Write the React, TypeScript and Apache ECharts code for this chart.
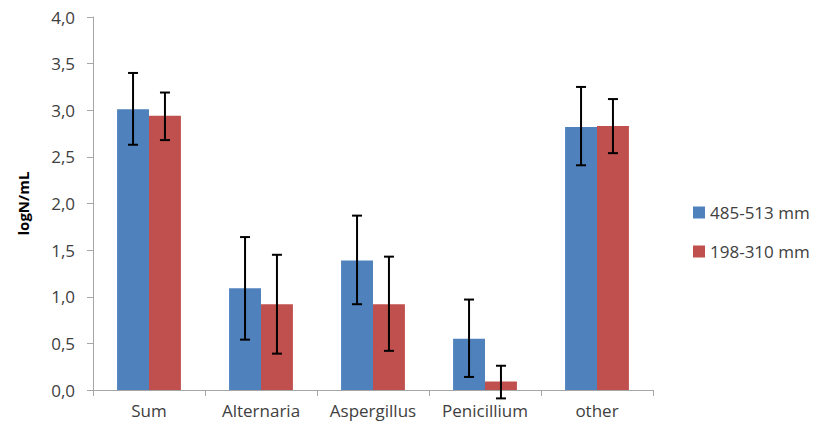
import React, { useEffect, useRef } from "react";
import * as echarts from "echarts";

const categories = ["Sum", "Alternaria", "Aspergillus", "Penicillium", "other"];
const seriesNames = ["485-513 mm", "198-310 mm"];
const blueMean = [3.01, 1.09, 1.39, 0.55, 2.82];
const blueLow = [2.63, 0.54, 0.92, 0.14, 2.41];
const blueHigh = [3.4, 1.64, 1.87, 0.97, 3.25];
const redMean = [2.94, 0.92, 0.92, 0.09, 2.83];
const redLow = [2.68, 0.39, 0.42, -0.09, 2.54];
const redHigh = [3.19, 1.45, 1.43, 0.26, 3.12];
const yTicks = { min: 0, max: 4, interval: 0.5 };

const FONT = "'Open Sans', sans-serif";

function errorSeries(low: number[], high: number[], sign: number) {
  return {
    type: "custom",
    clip: false,
    silent: true,
    z: 10,
    data: categories.map((_, i) => [i, low[i], high[i]]),
    renderItem: (params: any, api: any) => {
      const idx = api.value(0);
      const hi = api.coord([idx, api.value(2)]);
      const lo = api.coord([idx, api.value(1)]);
      const band = api.size([1, 0])[0];
      const x = hi[0] + sign * band * 0.1425;
      const cap = 5;
      const style = { stroke: "#000000", lineWidth: 2 };
      return {
        type: "group",
        children: [
          { type: "line", shape: { x1: x, y1: hi[1], x2: x, y2: lo[1] }, style },
          { type: "line", shape: { x1: x - cap, y1: hi[1], x2: x + cap, y2: hi[1] }, style },
          { type: "line", shape: { x1: x - cap, y1: lo[1], x2: x + cap, y2: lo[1] }, style },
        ],
      };
    },
  };
}

export default function App() {
  const ref = useRef<HTMLDivElement>(null);
  useEffect(() => {
    if (!ref.current) return;
    const chart = echarts.init(ref.current, null, { renderer: "svg" });
    chart.setOption({
      animation: false,
      backgroundColor: "#ffffff",
      textStyle: { fontFamily: FONT },
      grid: { left: 93, right: 170, top: 17, bottom: 42 },
      legend: {
        orient: "vertical",
        left: 688,
        top: 199,
        itemWidth: 12,
        itemHeight: 12,
        itemGap: 22,
        icon: "rect",
        data: seriesNames,
        textStyle: { fontFamily: FONT, fontSize: 17, color: "#404040" },
      },
      xAxis: {
        type: "category",
        data: categories,
        boundaryGap: true,
        axisLine: { lineStyle: { color: "#A6A6A6", width: 1 } },
        axisTick: { show: true, length: 6, lineStyle: { color: "#A6A6A6" } },
        axisLabel: {
          fontFamily: FONT,
          fontSize: 17,
          color: "#404040",
          margin: 12,
          interval: 0,
          hideOverlap: false,
        },
      },
      yAxis: {
        type: "value",
        min: yTicks.min,
        max: yTicks.max,
        interval: yTicks.interval,
        name: "logN/mL",
        nameLocation: "middle",
        nameGap: 63,
        nameTextStyle: { fontFamily: FONT, fontSize: 15, fontWeight: "bold", color: "#000000" },
        axisLine: { show: true, lineStyle: { color: "#A6A6A6", width: 1 } },
        axisTick: { show: true, length: 6, lineStyle: { color: "#A6A6A6" } },
        splitLine: { show: false },
        axisLabel: {
          fontFamily: FONT,
          fontSize: 17,
          color: "#404040",
          margin: 18,
          formatter: (v: number) => v.toFixed(1).replace(".", ","),
        },
      },
      series: [
        {
          name: seriesNames[0],
          type: "bar",
          data: blueMean,
          barWidth: "28.5%",
          barGap: "0%",
          itemStyle: { color: "#4F81BD" },
        },
        {
          name: seriesNames[1],
          type: "bar",
          data: redMean,
          barWidth: "28.5%",
          barGap: "0%",
          itemStyle: { color: "#C0504D" },
        },
        errorSeries(blueLow, blueHigh, -1),
        errorSeries(redLow, redHigh, 1),
      ],
    } as any);
    return () => chart.dispose();
  }, []);
  return <div ref={ref} style={{ width: 823, height: 432, position: "absolute", left: 0, top: 0 }} />;
}
